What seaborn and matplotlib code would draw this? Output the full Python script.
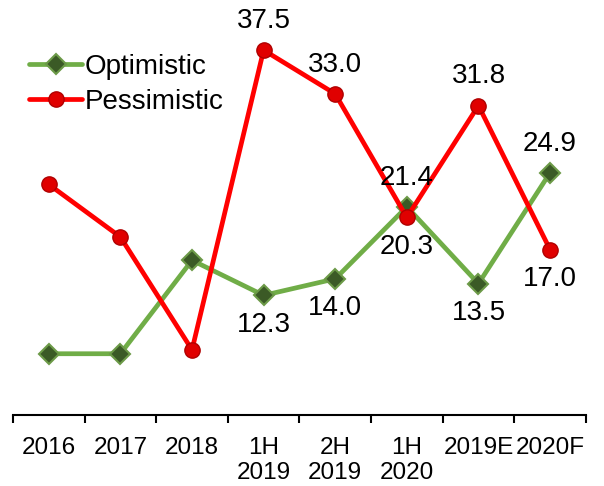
import pandas as pd
import matplotlib
matplotlib.use('Agg')
import matplotlib.pyplot as plt
import seaborn as sns

CATEGORIES = ['2016', '2017', '2018', '1H\n2019', '2H\n2019', '1H\n2020', '2019E', '2020F']
OPTIMISTIC = [6.3, 6.3, 15.9, 12.3, 14.0, 21.4, 13.5, 24.9]
PESSIMISTIC = [23.7, 18.3, 6.7, 37.5, 33.0, 20.3, 31.8, 17.0]
# which points carry a value label, and on which side (1 above, -1 below)
OPT_LABEL_SIDE = [0, 0, 0, -1, -1, 1, -1, 1]
PES_LABEL_SIDE = [0, 0, 0, 1, 1, -1, 1, -1]


def main():
    sns.set_style('white')
    plt.rcParams['font.family'] = ['Liberation Sans', 'DejaVu Sans']
    plt.rcParams['text.color'] = 'black'

    data = pd.DataFrame({'period': CATEGORIES,
                         'Optimistic': OPTIMISTIC,
                         'Pessimistic': PESSIMISTIC})

    fig = plt.figure(figsize=(6.04, 4.86), dpi=100)
    ax = fig.add_axes([0.0215, 0.146, 0.9485, 0.854])

    sns.lineplot(data=data, x='period', y='Optimistic', sort=False, ax=ax,
                 color='#70ad47', linewidth=3.4, marker='D', markersize=10,
                 markerfacecolor='#3b5a26', markeredgecolor='#6c9a48',
                 markeredgewidth=1.5, label='Optimistic')
    sns.lineplot(data=data, x='period', y='Pessimistic', sort=False, ax=ax,
                 color='#ff0000', linewidth=3.4, marker='o', markersize=11,
                 markerfacecolor='#e00000', markeredgecolor='#b00000',
                 markeredgewidth=1.0, label='Pessimistic')

    for values, sides in [(OPTIMISTIC, OPT_LABEL_SIDE), (PESSIMISTIC, PES_LABEL_SIDE)]:
        for i, (v, s) in enumerate(zip(values, sides)):
            if s == 0:
                continue
            ax.annotate('%.1f' % v, (i, v), xytext=(0, 21 * s), textcoords='offset points',
                        ha='center', va='center', fontsize=20, color='black')

    ax.set_xlim(-0.5, len(CATEGORIES) - 0.5)
    ax.set_ylim(0, 42.65)
    ax.set_xlabel('')
    ax.set_ylabel('')
    ax.set_yticks([])
    ax.set_xticks(range(len(CATEGORIES)))
    ax.set_xticklabels(CATEGORIES, fontsize=17.5, linespacing=1.15, color='black')
    ax.set_xticks([i - 0.5 for i in range(len(CATEGORIES) + 1)], minor=True)
    ax.tick_params(axis='x', which='major', length=0, pad=16)
    ax.tick_params(axis='x', which='minor', bottom=True, length=6, width=1.5,
                   color='black', direction='out')
    for side in ['top', 'right', 'left']:
        ax.spines[side].set_visible(False)
    ax.spines['bottom'].set_color('black')
    ax.spines['bottom'].set_linewidth(1.5)

    ax.legend(loc='upper left', bbox_to_anchor=(0.03, 0.912), bbox_transform=fig.transFigure,
              frameon=False, fontsize=20, handlelength=1.9, handletextpad=0.1,
              labelspacing=0.33, borderaxespad=0, labelcolor='black')

    fig.savefig('out.png', dpi=100)


if __name__ == '__main__':
    main()
